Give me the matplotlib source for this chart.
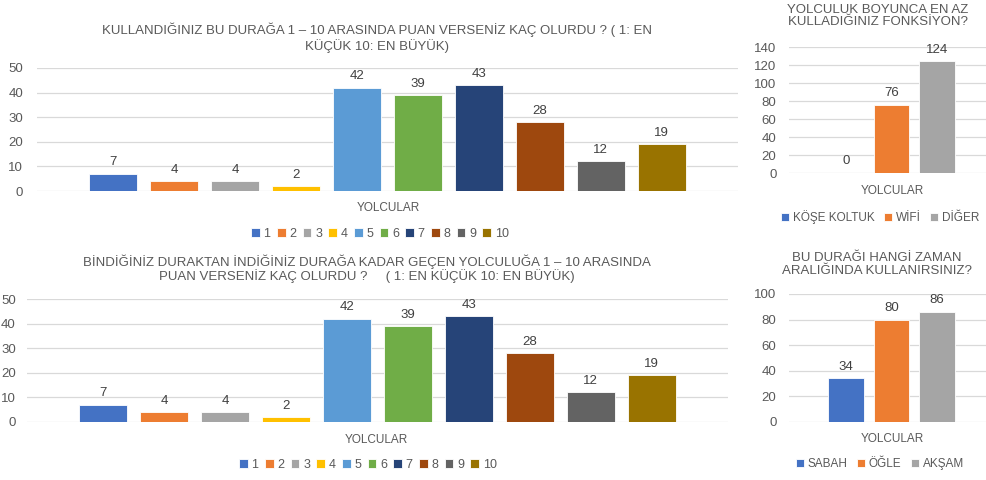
import matplotlib.pyplot as plt
import numpy as np

# data
puan_labels = ['1', '2', '3', '4', '5', '6', '7', '8', '9', '10']
durak_puan = [7, 4, 4, 2, 42, 39, 43, 28, 12, 19]
yolculuk_puan = [7, 4, 4, 2, 42, 39, 43, 28, 12, 19]
fonks_labels = ['KÖŞE KOLTUK', 'WİFİ', 'DİĞER']
fonks_vals = [0, 76, 124]
zaman_labels = ['SABAH', 'ÖĞLE', 'AKŞAM']
zaman_vals = [34, 80, 86]

colors = ['#4472C4', '#ED7D31', '#A5A5A5', '#FFC000', '#5B9BD5',
          '#70AD47', '#264478', '#9E480E', '#636363', '#997300']

W, H = 987, 480
fig = plt.figure(figsize=(W / 100, H / 100), dpi=100)
TXT = '#595959'
FONT = ['Liberation Sans', 'DejaVu Sans']


def px_axes(x0, x1, ytop, ybot):
    return fig.add_axes([x0 / W, 1 - ybot / H, (x1 - x0) / W, (ybot - ytop) / H])


def bar_chart(ax, labels, vals, ymax, step, fs, pad):
    n = len(vals)
    for i in range(n):
        ax.bar(i, vals[i], width=0.79, color=colors[i], label=labels[i],
               edgecolor='white', linewidth=0.6, zorder=3)
        ax.text(i, vals[i] + ymax * 0.045, str(vals[i]), ha='center', va='bottom',
                fontsize=fs, color='#404040', family=FONT)
    ax.set_xlim(-1.25, n - 1 + 1.25)
    ax.set_ylim(0, ymax)
    ax.set_yticks(np.arange(0, ymax + 1, step))
    ax.set_xticks([])
    for s in ax.spines.values():
        s.set_visible(False)
    ax.yaxis.grid(True, color='#D9D9D9', linewidth=0.9, zorder=0)
    ax.tick_params(axis='y', length=0, pad=pad, labelsize=fs, labelcolor=TXT)
    for t in ax.get_yticklabels():
        t.set_family(FONT)


def add_legend(ax, cx, cy, ncol, cs, fs):
    ax.legend(loc='center', bbox_to_anchor=(cx / W, 1 - cy / H), bbox_transform=fig.transFigure,
              ncol=ncol, frameon=False, handlelength=0.7, handleheight=0.7, handletextpad=0.3,
              columnspacing=cs, prop={'family': FONT, 'size': fs}, labelcolor=TXT)


# top left
ax1 = px_axes(37, 738, 68, 191)
bar_chart(ax1, puan_labels, durak_puan, 50, 10, 9.5, 10)
fig.text(377 / W, 1 - 38 / H, 'KULLANDIĞINIZ BU DURAĞA 1 – 10 ARASINDA PUAN VERSENİZ KAÇ OLURDU ? ( 1: EN\nKÜÇÜK 10: EN BÜYÜK)',
         ha='center', va='center', fontsize=9.5, color=TXT, family=FONT, linespacing=1.2)
fig.text(388 / W, 1 - 208 / H, 'YOLCULAR', ha='center', va='center', fontsize=8.5, color=TXT, family=FONT)
add_legend(ax1, 380, 234, 10, 0.5, 9)

# bottom left
ax2 = px_axes(27, 728, 299, 422)
bar_chart(ax2, puan_labels, yolculuk_puan, 50, 10, 9.5, 8)
fig.text(367 / W, 1 - 268.5 / H, 'BİNDİĞİNİZ DURAKTAN İNDİĞİNİZ DURAĞA KADAR GEÇEN YOLCULUĞA 1 – 10 ARASINDA\nPUAN VERSENİZ KAÇ OLURDU ?     ( 1: EN KÜÇÜK 10: EN BÜYÜK)',
         ha='center', va='center', fontsize=9.5, color=TXT, family=FONT, linespacing=1.05)
fig.text(376 / W, 1 - 440 / H, 'YOLCULAR', ha='center', va='center', fontsize=8.5, color=TXT, family=FONT)
add_legend(ax2, 368, 465, 10, 0.5, 9)

# top right
ax3 = px_axes(789, 994, 47, 173)
bar_chart(ax3, fonks_labels, fonks_vals, 140, 20, 9.5, 9)
fig.text(878 / W, 1 - 16 / H, 'YOLCULUK BOYUNCA EN AZ\nKULLADIĞINIZ FONKSİYON?',
         ha='center', va='center', fontsize=9.5, color=TXT, family=FONT, linespacing=1.1)
fig.text(892 / W, 1 - 191 / H, 'YOLCULAR', ha='center', va='center', fontsize=8.5, color=TXT, family=FONT)
add_legend(ax3, 880, 217, 3, 0.8, 8.5)

# bottom right
ax4 = px_axes(789, 994, 294, 422)
bar_chart(ax4, zaman_labels, zaman_vals, 100, 20, 9.5, 9)
fig.text(877 / W, 1 - 264.5 / H, 'BU DURAĞI HANGİ ZAMAN\nARALIĞINDA KULLANIRSINIZ?',
         ha='center', va='center', fontsize=9.5, color=TXT, family=FONT, linespacing=1.1)
fig.text(892 / W, 1 - 439 / H, 'YOLCULAR', ha='center', va='center', fontsize=8.5, color=TXT, family=FONT)
add_legend(ax4, 880, 464, 3, 0.8, 8.5)

fig.savefig('out.png', dpi=100, facecolor='white')
